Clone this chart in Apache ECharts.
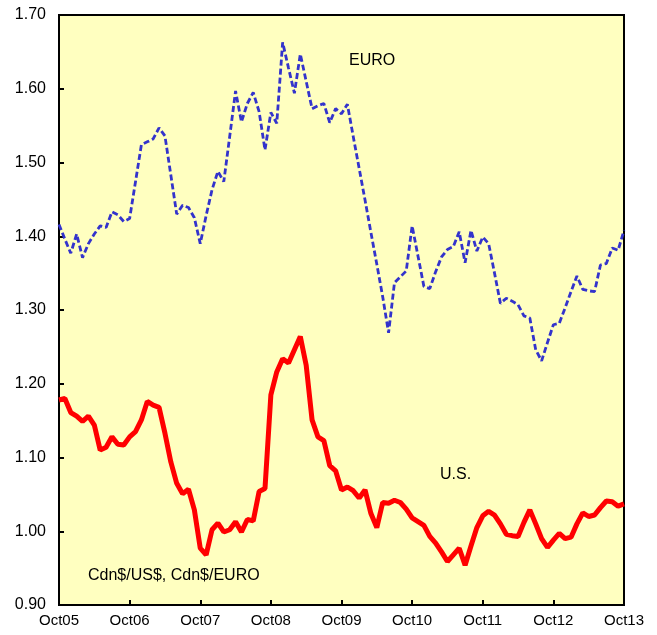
<!DOCTYPE html>
<html>
<head>
<meta charset="utf-8">
<script src="https://cdn.jsdelivr.net/npm/echarts@6/dist/echarts.min.js"></script>
<style>
html,body{margin:0;padding:0;background:#fff;}
#chart{width:657px;height:635px;}
</style>
</head>
<body>
<div id="chart"></div>
<script>
// Monthly categories, Oct 2005 .. Oct 2013
const monthNames = ['Jan','Feb','Mar','Apr','May','Jun','Jul','Aug','Sep','Oct','Nov','Dec'];
const startYear = 2005, startMonth = 9, monthCount = 97;
const categories = [];
for (let k = 0; k < monthCount; k++) {
  const m = (startMonth + k) % 12;
  const y = startYear + Math.floor((startMonth + k) / 12);
  categories.push(monthNames[m] + String(y % 100).padStart(2, '0'));
}

// Cdn$/EURO
const euro = [
  1.416,1.396,1.377,1.403,1.371,1.390,1.403,1.414,1.412,1.433,1.429,1.420,
  1.424,1.474,1.524,1.528,1.532,1.547,1.536,1.483,1.430,1.442,1.439,1.425,
  1.390,1.428,1.463,1.488,1.474,1.535,1.597,1.555,1.580,1.595,1.569,1.517,
  1.568,1.553,1.663,1.628,1.594,1.647,1.610,1.573,1.577,1.580,1.554,1.573,
  1.566,1.579,1.535,1.492,1.449,1.405,1.362,1.318,1.269,1.337,1.345,1.353,
  1.414,1.373,1.332,1.329,1.352,1.372,1.382,1.386,1.406,1.364,1.408,1.380,
  1.399,1.390,1.350,1.309,1.316,1.312,1.307,1.292,1.289,1.246,1.231,1.256,
  1.280,1.282,1.303,1.325,1.346,1.328,1.326,1.325,1.361,1.363,1.384,1.381,
  1.408
];

// Cdn$/US$
const us = [
  1.178,1.180,1.161,1.156,1.149,1.156,1.144,1.110,1.114,1.128,1.118,1.117,
  1.128,1.135,1.151,1.176,1.171,1.168,1.133,1.094,1.065,1.051,1.057,1.029,
  0.977,0.968,1.002,1.011,0.999,1.002,1.013,0.999,1.016,1.014,1.054,1.058,
  1.185,1.216,1.234,1.228,1.246,1.264,1.225,1.151,1.128,1.123,1.089,1.082,
  1.056,1.060,1.055,1.045,1.056,1.024,1.005,1.039,1.038,1.042,1.039,1.030,
  1.018,1.013,1.008,0.993,0.984,0.972,0.959,0.968,0.977,0.954,0.980,1.005,
  1.021,1.027,1.022,1.010,0.996,0.994,0.993,1.012,1.029,1.010,0.990,0.978,
  0.988,0.997,0.990,0.992,1.010,1.025,1.020,1.022,1.032,1.041,1.040,1.034,
  1.037
];

const yMin = 0.90, yMax = 1.70, yStep = 0.10;

const chart = echarts.init(document.getElementById('chart'), null, {renderer: 'canvas'});
const font = 'Liberation Sans, Arial, sans-serif';

chart.setOption({
  animation: false,
  backgroundColor: '#ffffff',
  grid: {
    left: 59, top: 15, right: 33, bottom: 30,
    show: true, backgroundColor: '#FFFFC0', borderColor: '#000', borderWidth: 2
  },
  xAxis: {
    type: 'category',
    data: categories,
    boundaryGap: false,
    axisLine: {lineStyle: {color: '#000', width: 2}},
    axisTick: {inside: true, length: 5, interval: 11, lineStyle: {color: '#000', width: 2}},
    axisLabel: {interval: 11, color: '#000', fontFamily: font, fontSize: 15, margin: 8},
    splitLine: {show: false}
  },
  yAxis: {
    type: 'value',
    min: yMin, max: yMax, interval: yStep,
    axisLine: {show: true, lineStyle: {color: '#000', width: 2}},
    axisTick: {show: true, inside: true, length: 5, lineStyle: {color: '#000', width: 2}},
    axisLabel: {color: '#000', fontFamily: font, fontSize: 16, margin: 13,
      formatter: v => v.toFixed(2)},
    splitLine: {show: false}
  },
  series: [
    {
      name: 'EURO', type: 'line', data: euro, symbol: 'none',
      lineStyle: {color: '#3333CC', width: 2.8, type: [6, 3]}
    },
    {
      name: 'U.S.', type: 'line', data: us, symbol: 'none',
      lineStyle: {color: '#FF0000', width: 5}
    }
  ],
  graphic: [
    {type: 'text', left: 349, top: 53, style: {text: 'EURO', font: '16px ' + font, fill: '#000'}},
    {type: 'text', left: 440, top: 467, style: {text: 'U.S.', font: '16px ' + font, fill: '#000'}},
    {type: 'text', left: 88, top: 568, style: {text: 'Cdn$/US$, Cdn$/EURO', font: '16px ' + font, fill: '#000'}}
  ]
});
</script>
</body>
</html>
